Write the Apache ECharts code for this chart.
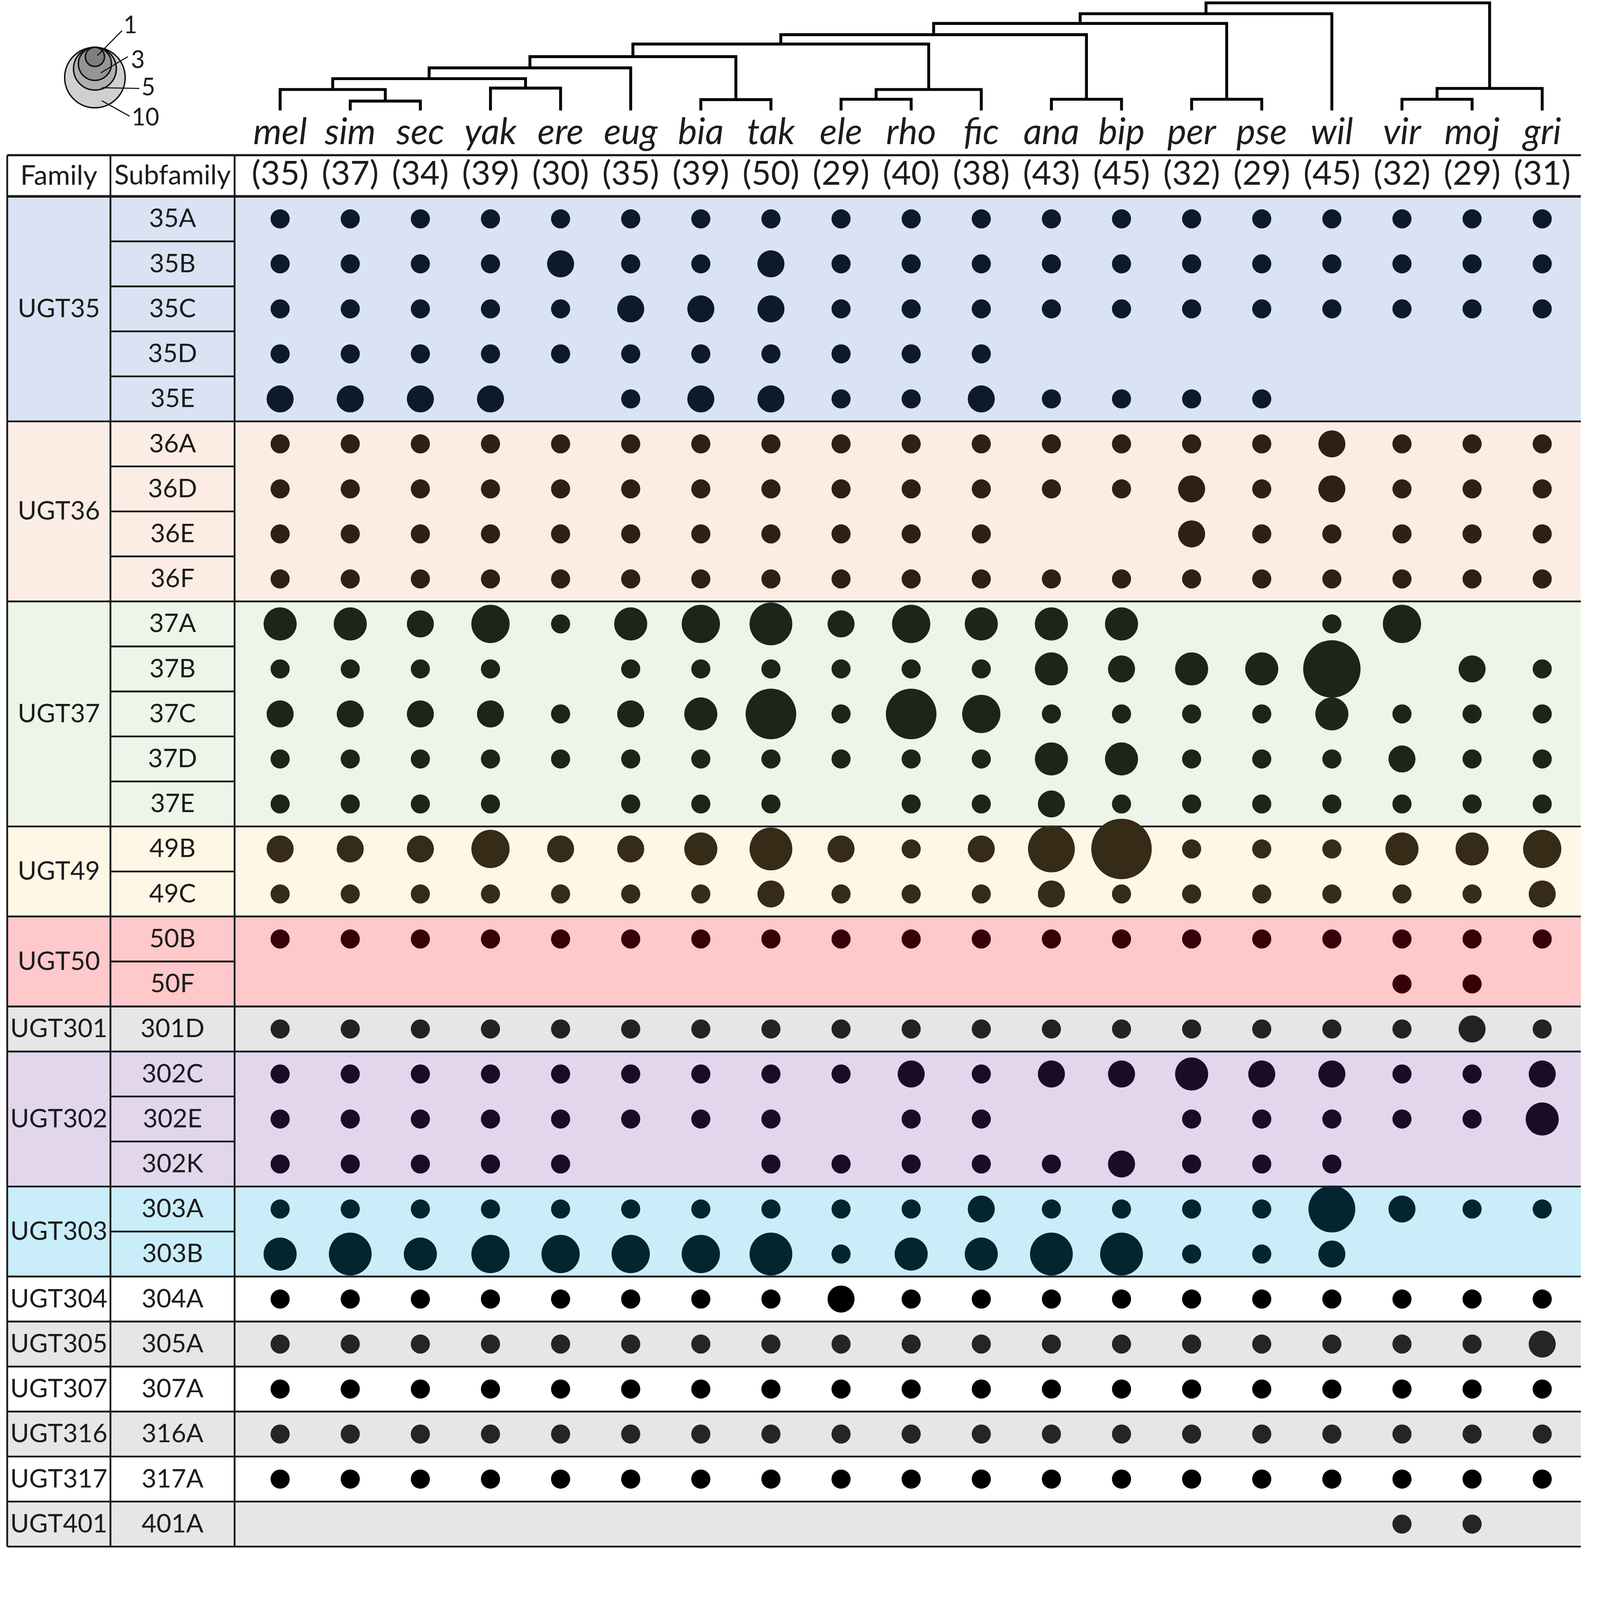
<!DOCTYPE html>
<html>
<head>
<meta charset="utf-8">
<title>UGT subfamily gene counts</title>
<script src="https://cdn.jsdelivr.net/npm/echarts@6.0.0/dist/echarts.min.js"></script>
<style>
html, body { margin: 0; padding: 0; background: #fff; overflow: hidden; }
#chart { width: 100vw; height: 100vh; }
</style>
</head>
<body>
<div id="chart"></div>
<script>
// species (columns) and their total gene counts
var species = ['mel', 'sim', 'sec', 'yak', 'ere', 'eug', 'bia', 'tak', 'ele', 'rho',
  'fic', 'ana', 'bip', 'per', 'pse', 'wil', 'vir', 'moj', 'gri'];
var speciesTotals = [35, 37, 34, 39, 30, 35, 39, 50, 29, 40, 38, 43, 45, 32, 29, 45, 32, 29, 31];

// families and their subfamilies (rows)
var families = ['UGT35', 'UGT36', 'UGT37', 'UGT49', 'UGT50', 'UGT301', 'UGT302', 'UGT303',
  'UGT304', 'UGT305', 'UGT307', 'UGT316', 'UGT317', 'UGT401'];
var subfamilies = [
  ['35A', '35B', '35C', '35D', '35E'],
  ['36A', '36D', '36E', '36F'],
  ['37A', '37B', '37C', '37D', '37E'],
  ['49B', '49C'],
  ['50B', '50F'],
  ['301D'],
  ['302C', '302E', '302K'],
  ['303A', '303B'],
  ['304A'], ['305A'], ['307A'], ['316A'], ['317A'], ['401A']
];
var familyFill = ['#dae3f3', '#fcede4', '#edf5e9', '#fff7e6', '#ffc8cb', '#e6e6e6', '#e2d6ed',
  '#c9eef9', '#ffffff', '#e6e6e6', '#ffffff', '#e6e6e6', '#ffffff', '#e6e6e6'];
var familyDot = ['#0c1a2c', '#2c2017', '#1d251a', '#352b17', '#3a0008', '#232323', '#1a0c26',
  '#032530', '#000000', '#252525', '#000000', '#252525', '#000000', '#252525'];

// gene counts, one row per subfamily, columns in species order
var geneCounts = [
  [1,1,1,1,1,1,1,1,1,1,1,1,1,1,1,1,1,1,1], // 35A
  [1,1,1,1,2,1,1,2,1,1,1,1,1,1,1,1,1,1,1], // 35B
  [1,1,1,1,1,2,2,2,1,1,1,1,1,1,1,1,1,1,1], // 35C
  [1,1,1,1,1,1,1,1,1,1,1,0,0,0,0,0,0,0,0], // 35D
  [2,2,2,2,0,1,2,2,1,1,2,1,1,1,1,0,0,0,0], // 35E
  [1,1,1,1,1,1,1,1,1,1,1,1,1,1,1,2,1,1,1], // 36A
  [1,1,1,1,1,1,1,1,1,1,1,1,1,2,1,2,1,1,1], // 36D
  [1,1,1,1,1,1,1,1,1,1,1,0,0,2,1,1,1,1,1], // 36E
  [1,1,1,1,1,1,1,1,1,1,1,1,1,1,1,1,1,1,1], // 36F
  [3,3,2,4,1,3,4,5,2,4,3,3,3,0,0,1,4,0,0], // 37A
  [1,1,1,1,0,1,1,1,1,1,1,3,2,3,3,9,0,2,1], // 37B
  [2,2,2,2,1,2,3,7,1,7,4,1,1,1,1,3,1,1,1], // 37C
  [1,1,1,1,1,1,1,1,1,1,1,3,3,1,1,1,2,1,1], // 37D
  [1,1,1,1,0,1,1,1,0,1,1,2,1,1,1,1,1,1,1], // 37E
  [2,2,2,4,2,2,3,5,2,1,2,6,10,1,1,1,3,3,4], // 49B
  [1,1,1,1,1,1,1,2,1,1,1,2,1,1,1,1,1,1,2], // 49C
  [1,1,1,1,1,1,1,1,1,1,1,1,1,1,1,1,1,1,1], // 50B
  [0,0,0,0,0,0,0,0,0,0,0,0,0,0,0,0,1,1,0], // 50F
  [1,1,1,1,1,1,1,1,1,1,1,1,1,1,1,1,1,2,1], // 301D
  [1,1,1,1,1,1,1,1,1,2,1,2,2,3,2,2,1,1,2], // 302C
  [1,1,1,1,1,1,1,1,0,1,1,0,0,1,1,1,1,1,3], // 302E
  [1,1,1,1,1,0,0,1,1,1,1,1,2,1,1,1,0,0,0], // 302K
  [1,1,1,1,1,1,1,1,1,1,2,1,1,1,1,6,2,1,1], // 303A
  [3,5,3,4,4,4,4,5,1,3,3,5,5,1,1,2,0,0,0], // 303B
  [1,1,1,1,1,1,1,1,2,1,1,1,1,1,1,1,1,1,1], // 304A
  [1,1,1,1,1,1,1,1,1,1,1,1,1,1,1,1,1,1,2], // 305A
  [1,1,1,1,1,1,1,1,1,1,1,1,1,1,1,1,1,1,1], // 307A
  [1,1,1,1,1,1,1,1,1,1,1,1,1,1,1,1,1,1,1], // 316A
  [1,1,1,1,1,1,1,1,1,1,1,1,1,1,1,1,1,1,1], // 317A
  [0,0,0,0,0,0,0,0,0,0,0,0,0,0,0,0,1,1,0]  // 401A
];

// species tree: [childA, childB, height]; leaves are 0..18, merges get ids 19, 20, ...
var treeMerges = [
  [1, 2, 26],    // 19 sim+sec
  [0, 19, 58],   // 20 mel
  [3, 4, 62],    // 21 yak+ere
  [20, 21, 88],  // 22
  [22, 5, 118],  // 23 eug
  [6, 7, 30],    // 24 bia+tak
  [23, 24, 149], // 25
  [8, 9, 31],    // 26 ele+rho
  [26, 10, 58],  // 27 fic
  [25, 27, 184], // 28
  [11, 12, 31],  // 29 ana+bip
  [28, 29, 210], // 30
  [13, 14, 31],  // 31 per+pse
  [30, 31, 241], // 32
  [32, 15, 268], // 33 wil
  [16, 17, 31],  // 34 vir+moj
  [34, 18, 61],  // 35 gri
  [33, 35, 298]  // 36 root
];

var legendValues = [1, 3, 5, 10];
var legendFill = ['#7e7e7e', '#959595', '#afafaf', '#d0d0d0'];

var FONT = 'Lato, "Open Sans", sans-serif';
var TEXT = '#1c1c1c';
var LINE = '#1a1a1a';
var TABLE_W = 4360, FAM_W = 286, SUB_W = 344, HEAD_H = 114;

// the layout is drawn for a 4433 x 4293 page, scaled to the real viewport
var S = Math.min(window.innerWidth / 4433, window.innerHeight / 4293);
function px(v) { return v * S; }
function dotSize(n) { return px(53) * Math.sqrt(n); }

var rowNames = [], rowFamily = [], famStart = [];
subfamilies.forEach(function (subs, f) {
  famStart.push(rowNames.length);
  subs.forEach(function (s) { rowNames.push(s); rowFamily.push(f); });
});

var dots = [];
geneCounts.forEach(function (row, r) {
  row.forEach(function (n, s) { if (n > 0) dots.push([s, r, n]); });
});

var nodeX = species.map(function (_, i) { return i; });
var nodeH = species.map(function () { return 0; });
var branches = [];
treeMerges.forEach(function (m) {
  var a = m[0], b = m[1], h = m[2];
  branches.push([nodeX[a], nodeX[b], h, nodeH[a], nodeH[b]]);
  nodeX.push((nodeX[a] + nodeX[b]) / 2);
  nodeH.push(h);
});

function box(api, f) {
  var c = api.coord([0, famStart[f]]);
  var band = api.coord([0, 1])[1] - api.coord([0, 0])[1];
  var top = c[1] - band / 2;
  return {
    x0: c[0], top: top, band: band, bottom: top + subfamilies[f].length * band,
    xFam: api.coord([FAM_W, 0])[0], xSub: api.coord([FAM_W + SUB_W, 0])[0], xEnd: api.coord([TABLE_W, 0])[0]
  };
}
function hline(x1, x2, y, w) {
  return { type: 'line', shape: { x1: x1, y1: y, x2: x2, y2: y }, style: { stroke: LINE, lineWidth: px(w) } };
}
function vline(x, y1, y2, w) {
  return { type: 'line', shape: { x1: x, y1: y1, x2: x, y2: y2 }, style: { stroke: LINE, lineWidth: px(w) } };
}
function label(text, x, y, size, style) {
  return { type: 'text', style: { text: text, x: x, y: y, fontSize: px(size), fontFamily: FONT, fontStyle: style || 'normal',
    fill: TEXT, align: 'center', verticalAlign: 'middle' } };
}

var chart = echarts.init(document.getElementById('chart'), null, { renderer: 'canvas' });
chart.setOption({
  backgroundColor: '#ffffff',
  animation: false,
  grid: [
    { left: px(20), top: px(544), width: px(TABLE_W), height: px(3741), outerBoundsMode: 'none' },
    { left: px(679), top: px(544), width: px(3691), height: px(3741), outerBoundsMode: 'none' },
    { left: px(679), top: px(6), width: px(3691), height: px(300), outerBoundsMode: 'none' },
    { left: px(178), top: px(131), width: px(170), height: px(170), outerBoundsMode: 'none' }
  ],
  xAxis: [
    { gridIndex: 0, type: 'value', min: 0, max: TABLE_W, show: false },
    { gridIndex: 1, type: 'category', data: species, position: 'top',
      axisLine: { show: false }, axisTick: { show: false }, splitLine: { show: false },
      axisLabel: { interval: 0, hideOverlap: false, margin: px(62), verticalAlign: 'middle', fontFamily: FONT,
        fontSize: px(93), color: TEXT, formatter: function (v, i) { return '(' + speciesTotals[i] + ')'; } } },
    { gridIndex: 1, type: 'category', data: species, position: 'top', offset: px(120),
      axisLine: { show: false }, axisTick: { show: false }, splitLine: { show: false },
      axisLabel: { interval: 0, hideOverlap: false, margin: px(57), verticalAlign: 'middle', fontFamily: FONT,
        fontSize: px(100), fontStyle: 'italic', color: TEXT } },
    { gridIndex: 2, type: 'value', min: -0.5, max: species.length - 0.5, show: false },
    { gridIndex: 3, type: 'value', min: 0, max: 1, show: false }
  ],
  yAxis: [
    { gridIndex: 0, type: 'category', data: rowNames, inverse: true, show: false },
    { gridIndex: 1, type: 'category', data: rowNames, inverse: true, show: false },
    { gridIndex: 2, type: 'value', min: 0, max: 300, show: false },
    { gridIndex: 3, type: 'value', min: 0, max: 1, show: false }
  ],
  series: [
    {
      // family colour bands
      type: 'custom', xAxisIndex: 0, yAxisIndex: 0, z: 1, silent: true,
      data: families.map(function (f, i) { return [0, famStart[i]]; }),
      renderItem: function (params, api) {
        var f = params.dataIndex, b = box(api, f);
        return { type: 'rect', shape: { x: b.x0, y: b.top, width: b.xEnd - b.x0, height: b.bottom - b.top },
          style: { fill: familyFill[f] } };
      }
    },
    {
      // table rules and labels
      type: 'custom', xAxisIndex: 0, yAxisIndex: 0, z: 2, silent: true,
      data: families.map(function (f, i) { return [0, famStart[i]]; }),
      renderItem: function (params, api) {
        var f = params.dataIndex, b = box(api, f), kids = [];
        var subs = subfamilies[f];
        kids.push(vline(b.x0, b.top, b.bottom, 5), vline(b.xFam, b.top, b.bottom, 5), vline(b.xSub, b.top, b.bottom, 5));
        for (var j = 1; j < subs.length; j++) kids.push(hline(b.xFam, b.xSub, b.top + j * b.band, 5));
        kids.push(hline(b.x0, b.xEnd, b.bottom, 5));
        kids.push(label(families[f], (b.x0 + b.xFam) / 2, (b.top + b.bottom) / 2, 71));
        subs.forEach(function (s, j) {
          kids.push(label(s, (b.xFam + b.xSub) / 2, b.top + (j + 0.5) * b.band, 71));
        });
        if (f === 0) {
          var hh = px(HEAD_H), ht = b.top - hh;
          kids.push(hline(b.x0, b.xEnd, ht, 6), hline(b.x0, b.xEnd, b.top, 7));
          kids.push(vline(b.x0, ht, b.top, 5), vline(b.xFam, ht, b.top, 5), vline(b.xSub, ht, b.top, 5));
          kids.push(label('Family', (b.x0 + b.xFam) / 2, ht + hh / 2, 76));
          kids.push(label('Subfamily', (b.xFam + b.xSub) / 2, ht + hh / 2, 75));
        }
        return { type: 'group', children: kids };
      }
    },
    {
      type: 'scatter', xAxisIndex: 1, yAxisIndex: 1, z: 3, silent: true,
      data: dots, symbol: 'circle',
      symbolSize: function (v) { return dotSize(v[2]); },
      itemStyle: { opacity: 1, color: function (p) { return familyDot[rowFamily[p.value[1]]]; } }
    },
    {
      // species tree
      type: 'custom', xAxisIndex: 3, yAxisIndex: 2, silent: true,
      data: branches,
      renderItem: function (params, api) {
        var br = branches[params.dataIndex];
        var pts = [api.coord([br[0], br[3]]), api.coord([br[0], br[2]]), api.coord([br[1], br[2]]), api.coord([br[1], br[4]])];
        return { type: 'polyline', shape: { points: pts }, style: { stroke: '#000', lineWidth: px(8), fill: null } };
      }
    },
    {
      // size legend, circles stacked from their top edge
      type: 'custom', xAxisIndex: 4, yAxisIndex: 3, silent: true,
      data: legendValues.slice().reverse().map(function (v) { return [0.5, 1, v]; }),
      renderItem: function (params, api) {
        var v = api.value(2), k = legendValues.indexOf(v);
        var top = api.coord([0.5, 1]), r = dotSize(v) / 2;
        var lead = { 1: [7, 23, 75, -46, 98, -60], 3: [16, 71, 91, 26, 119, 36],
          5: [19, 112, 123, 114, 148, 112], 10: [19, 148, 96, 191, 140, 195] }[v].map(px);
        var x = top[0], y = top[1];
        return { type: 'group', children: [
          { type: 'circle', shape: { cx: x, cy: y + r, r: r }, style: { fill: legendFill[k], stroke: '#111', lineWidth: px(4) } },
          { type: 'line', shape: { x1: x + lead[0], y1: y + lead[1], x2: x + lead[2], y2: y + lead[3] },
            style: { stroke: '#111', lineWidth: px(3) } },
          label(String(v), x + lead[4], y + lead[5], 66)
        ] };
      }
    }
  ]
});
</script>
</body>
</html>
